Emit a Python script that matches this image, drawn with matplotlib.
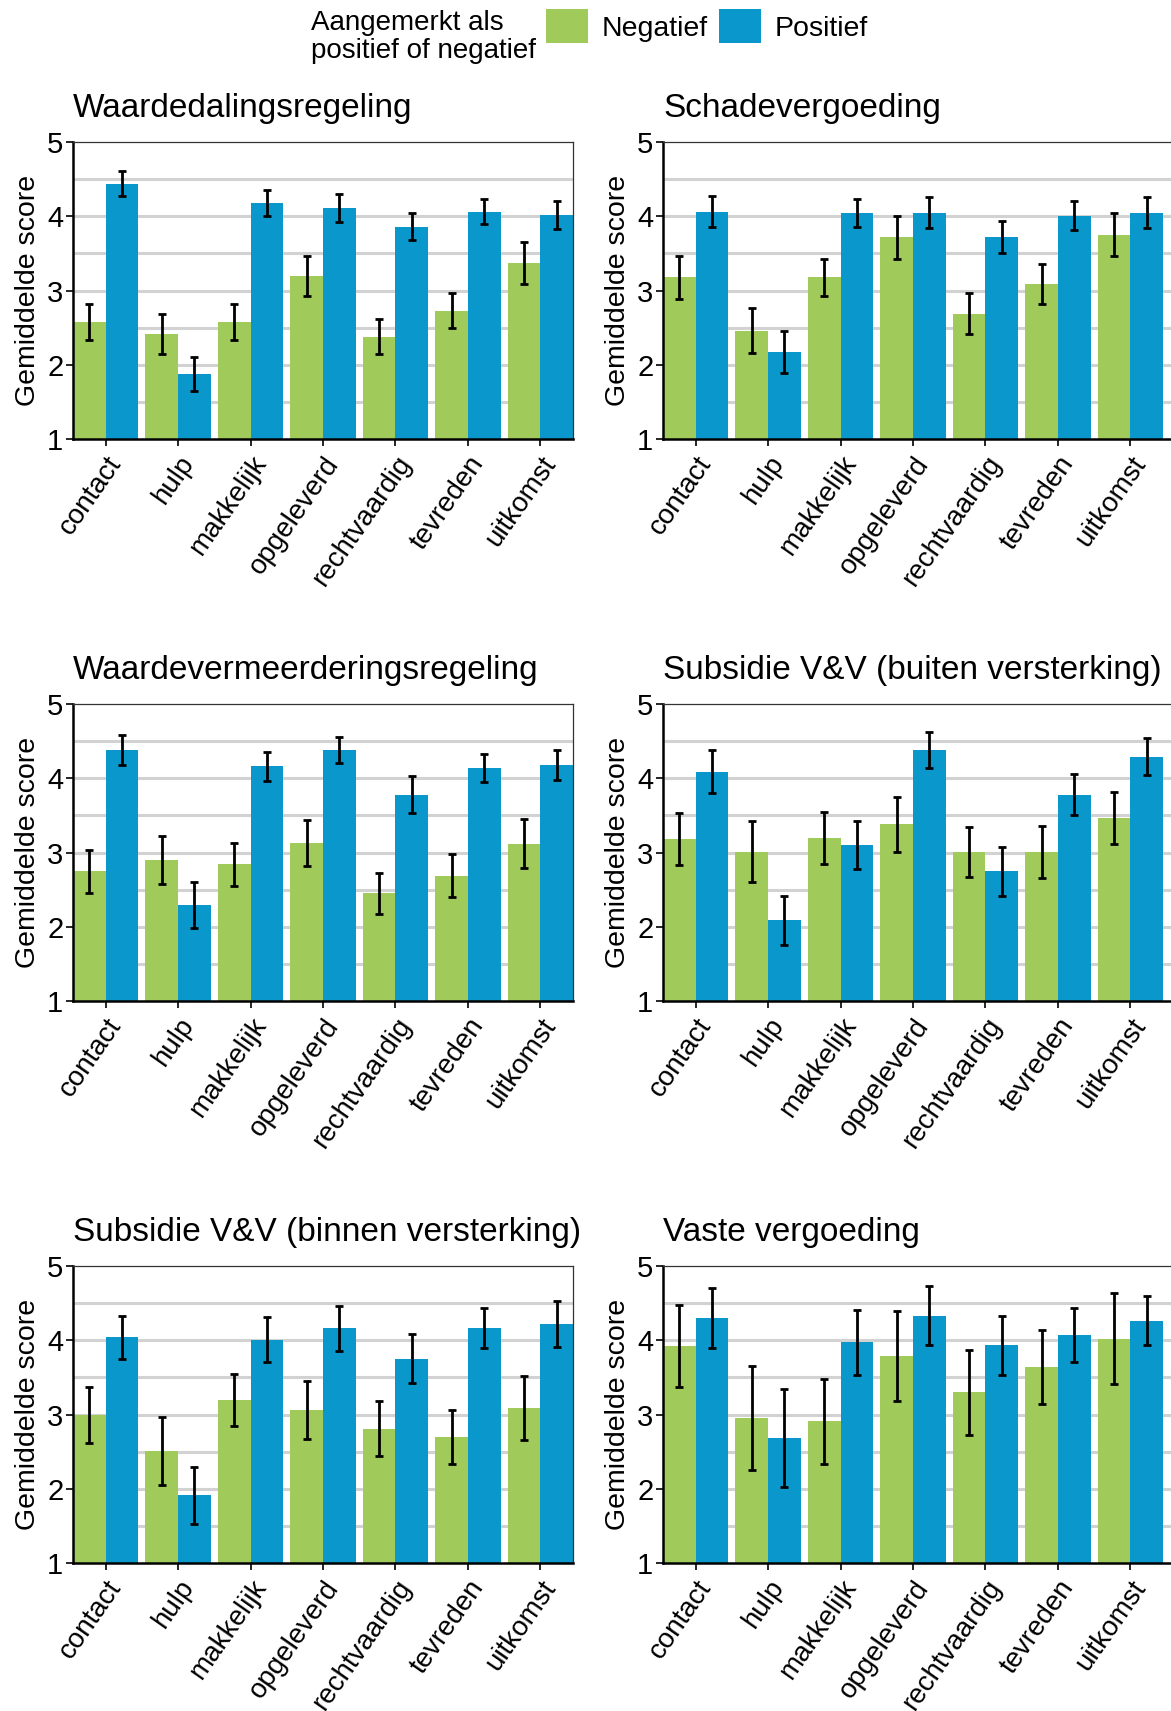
import matplotlib
matplotlib.use("Agg")
import matplotlib.pyplot as plt
from matplotlib.patches import Patch
import numpy as np

plt.rcParams['font.family'] = ['Liberation Sans', 'DejaVu Sans']

categories = ["contact", "hulp", "makkelijk", "opgeleverd", "rechtvaardig", "tevreden", "uitkomst"]
titles = ["Waardedalingsregeling", "Schadevergoeding",
          "Waardevermeerderingsregeling", "Subsidie V&V (buiten versterking)",
          "Subsidie V&V (binnen versterking)", "Vaste vergoeding"]

# mean scores (Negatief / Positief) and error half-widths per panel
neg_waardedaling = [2.58, 2.41, 2.58, 3.19, 2.38, 2.73, 3.37]
neg_waardedaling_err = [0.24, 0.27, 0.24, 0.27, 0.24, 0.24, 0.28]
pos_waardedaling = [4.44, 1.88, 4.18, 4.11, 3.86, 4.06, 4.02]
pos_waardedaling_err = [0.17, 0.23, 0.17, 0.19, 0.18, 0.17, 0.19]

neg_schade = [3.18, 2.46, 3.18, 3.72, 2.69, 3.09, 3.75]
neg_schade_err = [0.29, 0.30, 0.25, 0.29, 0.28, 0.27, 0.29]
pos_schade = [4.06, 2.17, 4.04, 4.05, 3.72, 4.01, 4.05]
pos_schade_err = [0.21, 0.28, 0.19, 0.21, 0.21, 0.19, 0.21]

neg_waardeverm = [2.75, 2.90, 2.84, 3.13, 2.45, 2.69, 3.12]
neg_waardeverm_err = [0.29, 0.32, 0.29, 0.31, 0.28, 0.29, 0.33]
pos_waardeverm = [4.38, 2.29, 4.16, 4.38, 3.78, 4.14, 4.18]
pos_waardeverm_err = [0.20, 0.31, 0.20, 0.17, 0.25, 0.19, 0.20]

neg_buiten = [3.18, 3.01, 3.20, 3.38, 3.01, 3.01, 3.46]
neg_buiten_err = [0.35, 0.41, 0.35, 0.37, 0.34, 0.35, 0.35]
pos_buiten = [4.09, 2.09, 3.10, 4.38, 2.75, 3.78, 4.29]
pos_buiten_err = [0.29, 0.33, 0.32, 0.24, 0.33, 0.28, 0.25]

neg_binnen = [2.99, 2.51, 3.19, 3.06, 2.81, 2.70, 3.09]
neg_binnen_err = [0.38, 0.46, 0.35, 0.39, 0.37, 0.36, 0.43]
pos_binnen = [4.04, 1.91, 4.01, 4.16, 3.75, 4.17, 4.22]
pos_binnen_err = [0.29, 0.38, 0.30, 0.30, 0.33, 0.27, 0.31]

neg_vast = [3.92, 2.95, 2.91, 3.79, 3.30, 3.64, 4.02]
neg_vast_err = [0.55, 0.70, 0.57, 0.61, 0.57, 0.50, 0.61]
pos_vast = [4.30, 2.69, 3.97, 4.33, 3.93, 4.07, 4.26]
pos_vast_err = [0.40, 0.66, 0.44, 0.40, 0.40, 0.36, 0.33]

panels = [
    (neg_waardedaling, neg_waardedaling_err, pos_waardedaling, pos_waardedaling_err),
    (neg_schade, neg_schade_err, pos_schade, pos_schade_err),
    (neg_waardeverm, neg_waardeverm_err, pos_waardeverm, pos_waardeverm_err),
    (neg_buiten, neg_buiten_err, pos_buiten, pos_buiten_err),
    (neg_binnen, neg_binnen_err, pos_binnen, pos_binnen_err),
    (neg_vast, neg_vast_err, pos_vast, pos_vast_err),
]

GREEN = "#A0CB5A"
BLUE = "#0A98CC"
GRID = "#D2D2D2"

W, H = 1171, 1711
fig = plt.figure(figsize=(W / 100, H / 100), dpi=100)

col_x = [(73, 573), (663, 1176)]
row_y = [(142, 439), (704, 1001), (1266, 1563)]

x = np.arange(len(categories))
bw = 0.45
for k, (neg, neg_e, pos, pos_e) in enumerate(panels):
    r, c = divmod(k, 2)
    x0, x1 = col_x[c]
    y0, y1 = row_y[r]
    ax = fig.add_axes([x0 / W, 1 - y1 / H, (x1 - x0) / W, (y1 - y0) / H])
    ax.bar(x - bw / 2, neg, width=bw, color=GREEN, zorder=2)
    ax.bar(x + bw / 2, pos, width=bw, color=BLUE, zorder=2)
    ekw = dict(fmt="none", ecolor="black", elinewidth=2.0, capsize=2.6, capthick=2.0, zorder=3)
    ax.errorbar(x - bw / 2, neg, yerr=neg_e, **ekw)
    ax.errorbar(x + bw / 2, pos, yerr=pos_e, **ekw)
    ax.set_ylim(1, 5)
    # bars end 13 px before the axes edge on the right column (cut off by the figure)
    extra = (x1 - x0 - 500) * (len(categories) - 1 + 2 * bw) / 500
    ax.set_xlim(-bw, len(categories) - 1 + bw + extra)
    ax.set_yticks([1, 2, 3, 4, 5])
    for gy in [1.5, 2, 2.5, 3, 3.5, 4, 4.5]:
        ax.axhline(gy, color=GRID, lw=2.2, zorder=1)
    ax.set_xticks(x)
    ax.set_xticklabels(categories, rotation=55, ha="right", rotation_mode="anchor", fontsize=20)
    ax.tick_params(axis="y", labelsize=21, length=5, width=1.2, pad=2)
    ax.tick_params(axis="x", length=5, width=1.2, pad=4)
    ax.set_ylabel("Gemiddelde score", fontsize=20.5, labelpad=4)
    ax.set_title(titles[k], loc="left", fontsize=24, pad=18)
    for s in ["left", "bottom"]:
        ax.spines[s].set_linewidth(1.8)
    for s in ["top", "right"]:
        ax.spines[s].set_linewidth(0.9)
        ax.spines[s].set_color("#333333")

fig.text(311 / W, 1 - 10 / H, "Aangemerkt als\npositief of negatief", fontsize=20,
         va="top", ha="left", linespacing=1.12)
handles = [Patch(facecolor=GREEN, edgecolor="none"), Patch(facecolor=BLUE, edgecolor="none")]
fig.legend(handles, ["Negatief", "Positief"], ncol=2, loc="upper left",
           bbox_to_anchor=(535 / W, 1 + 2 / H), frameon=False, fontsize=20.5,
           handlelength=1.45, handleheight=1.45, handletextpad=0.5, columnspacing=0.4,
           borderaxespad=0.2, borderpad=0.2)

fig.savefig("out.png", dpi=100)
